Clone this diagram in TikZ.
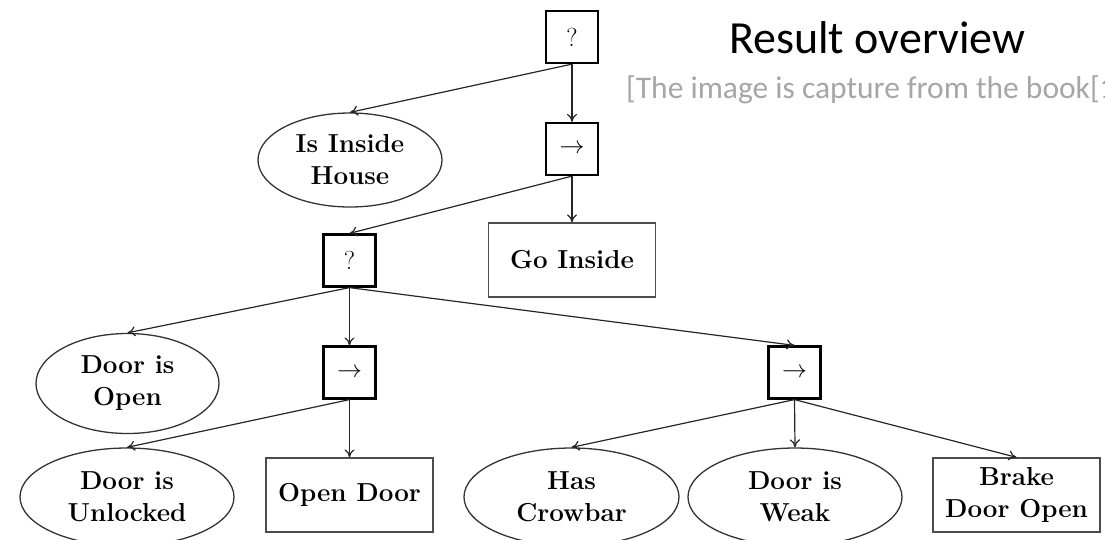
\documentclass[tikz,border=0pt]{standalone}
\usepackage{fontspec}
\newfontfamily\calibri{Carlito}
\usetikzlibrary{shapes.geometric,arrows.meta}
\definecolor{notegray}{RGB}{166,166,166}
\begin{document}
\begin{tikzpicture}[x=1pt,y=-1pt,
  ctrl/.style={draw=black,line width=2.2pt,minimum width=52pt,minimum height=52pt,
    inner sep=0pt,font=\fontsize{26}{32}\selectfont},
  cond/.style={ellipse,draw=black!80,line width=1.3pt,inner sep=0pt,align=center,
    font=\fontsize{26}{32}\selectfont\bfseries},
  act/.style={draw=black!70,line width=1.3pt,minimum width=167pt,minimum height=74pt,
    inner sep=0pt,align=center,font=\fontsize{26}{32}\selectfont\bfseries},
  edge/.style={draw=black!85,line width=1.2pt,-{To[length=8pt,width=10pt]}}
]
\useasboundingbox (0,0) rectangle (1105,539);
\begin{scope}
\clip (0,0) rectangle (1105,539);

% heading
\node[anchor=base west,inner sep=0pt,font=\calibri\fontsize{46}{55}\selectfont]
  (title) at (729,53) {Result overview};
\node[anchor=base west,inner sep=0pt,text=notegray,font=\calibri\fontsize{31.5}{38}\selectfont]
  (note) at (626,98) {[The image is capture from the book[1};

% behaviour tree
\node[ctrl] (root) at (572,37) {?};
\node[cond,minimum width=184pt,minimum height=94pt] (inside) at (350,160) {Is Inside\\House};
\node[ctrl] (seqA) at (572,149) {$\rightarrow$};
\node[act] (goin) at (572,260) {Go Inside};
\node[ctrl] (selB) at (349.5,260.5) {?};
\node[cond,minimum width=183pt,minimum height=100pt] (open) at (127.5,383.5) {Door is\\Open};
\node[ctrl] (seqC) at (349.5,372.5) {$\rightarrow$};
\node[ctrl] (seqD) at (794.5,372.5) {$\rightarrow$};
\node[cond,minimum width=214pt,minimum height=98pt] (unlocked) at (127,497) {Door is\\Unlocked};
\node[act] (opendoor) at (349.5,495) {Open Door};
\node[cond,minimum width=215pt,minimum height=98pt] (crowbar) at (571.5,497) {Has\\Crowbar};
\node[cond,minimum width=214pt,minimum height=98pt] (weak) at (795,497) {Door is\\Weak};
\node[act] (brake) at (1016.5,495) {Brake\\Door Open};

% connectors
\draw[edge] (root.south) -- (inside.north);
\draw[edge] (root.south) -- (seqA.north);
\draw[edge] (seqA.south) -- (selB.north);
\draw[edge] (seqA.south) -- (goin.north);
\draw[edge] (selB.south) -- (open.north);
\draw[edge] (selB.south) -- (seqC.north);
\draw[edge] (selB.south) -- (seqD.north);
\draw[edge] (seqC.south) -- (unlocked.north);
\draw[edge] (seqC.south) -- (opendoor.north);
\draw[edge] (seqD.south) -- (crowbar.north);
\draw[edge] (seqD.south) -- (weak.north);
\draw[edge] (seqD.south) -- (brake.north);
\end{scope}
\end{tikzpicture}
\end{document}
